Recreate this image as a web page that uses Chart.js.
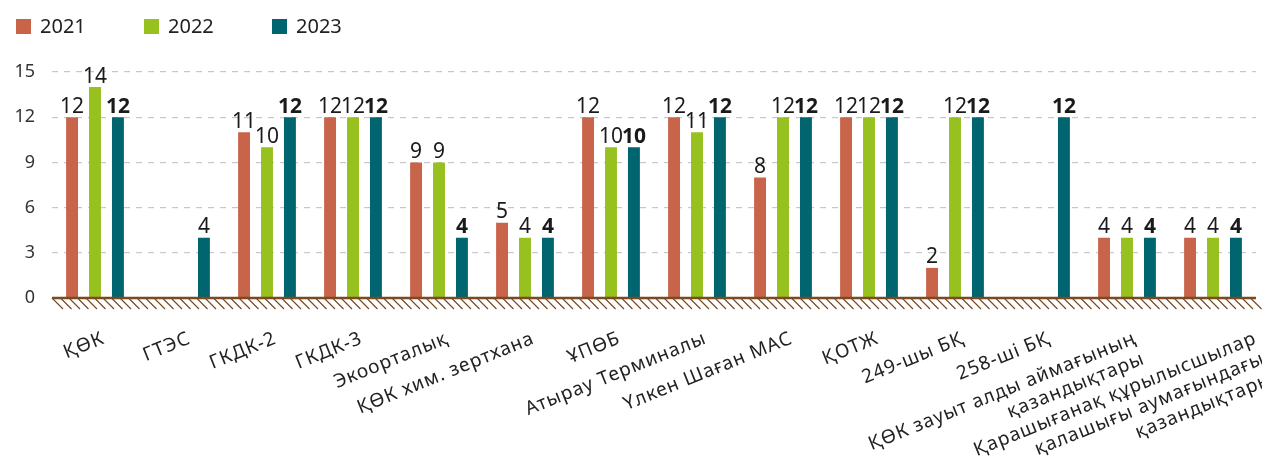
<!DOCTYPE html>
<html>
<head>
<meta charset="utf-8">
<script src="https://cdn.jsdelivr.net/npm/chart.js@4.4.0/dist/chart.umd.min.js"></script>
<style>
  html,body{margin:0;padding:0;background:#fff;}
  #wrap{width:1262px;height:462px;position:relative;}
</style>
</head>
<body>
<div id="wrap"><canvas id="barChart"></canvas></div>
<script>
const categories=['ҚӨК','ГТЭС','ГКДК-2','ГКДК-3','Экоорталық','ҚӨК хим. зертхана','ҰПӨБ','Атырау Терминалы','Үлкен Шаған МАС','ҚОТЖ','249-шы БҚ','258-ші БҚ',
    ['ҚӨК зауыт алды аймағының','қазандықтары'],
    ['Қарашығанақ құрылысшылар','қалашығы аумағындағы','қазандықтары']];
const years=['2021','2022','2023'];
const values2021=[12,null,11,12,9,5,12,12,8,12,2,null,4,4];
const values2022=[14,null,10,12,9,4,10,11,12,12,12,null,4,4];
const values2023=[12,4,12,12,4,4,10,12,12,12,12,12,4,4];
const yTicks=[0,3,6,9,12,15];

const colors=['#c8644a','#97c11f','#00656f'];
const FONT='"Noto Sans", sans-serif';

// zero line with hatching under it
const hatchPlugin={
    id:'hatch',
    afterDatasetsDraw(chart){
        const {ctx,chartArea}=chart;
        const y0=chart.scales.y.getPixelForValue(0);
        ctx.save();
        ctx.strokeStyle='#7a4b22';
        ctx.lineWidth=1.2;
        ctx.beginPath();
        for(let x=chartArea.left;x<chartArea.right;x+=8.5){
            ctx.moveTo(x,y0);
            ctx.lineTo(x+11,y0+11);
        }
        ctx.stroke();
        ctx.lineWidth=2.5;
        ctx.beginPath();
        ctx.moveTo(chartArea.left,y0);
        ctx.lineTo(chartArea.right,y0);
        ctx.stroke();
        ctx.restore();
    }
};

// numbers above the bars
const valuePlugin={
    id:'values',
    afterDatasetsDraw(chart){
        const ctx=chart.ctx;
        ctx.save();
        ctx.textAlign='center';
        ctx.textBaseline='bottom';
        ctx.fillStyle='#1a1a1a';
        chart.data.datasets.forEach((ds,di)=>{
            const meta=chart.getDatasetMeta(di);
            meta.data.forEach((bar,i)=>{
                const v=ds.data[i];
                if(v===null||v===undefined) return;
                const bold=di===2&&i!==1;
                ctx.font=(bold?'bold ':'')+'21px '+FONT;
                ctx.fillText(String(v),bar.x,bar.y);
            });
        });
        ctx.restore();
    }
};

// rotated category labels, right aligned at the tick
const xLabelPlugin={
    id:'xLabels',
    afterDraw(chart){
        const ctx=chart.ctx;
        const xs=chart.scales.x;
        const y0=chart.scales.y.getPixelForValue(0);
        ctx.save();
        ctx.font='19px '+FONT;
        ctx.letterSpacing='1px';
        ctx.fillStyle='#222';
        ctx.textAlign='right';
        ctx.textBaseline='top';
        chart.data.labels.forEach((lab,i)=>{
            const lines=Array.isArray(lab)?lab:[lab];
            // the last long label is pushed right in the original layout
            const shift=i===chart.data.labels.length-1?34:0;
            ctx.save();
            ctx.translate(xs.getPixelForTick(i)+5+shift,y0+31);
            ctx.rotate(-22*Math.PI/180);
            lines.forEach((t,k)=>ctx.fillText(t,0,k*22));
            ctx.restore();
        });
        ctx.restore();
    }
};

// legend drawn at top-left
const legendPlugin={
    id:'topLegend',
    afterDraw(chart){
        const ctx=chart.ctx;
        ctx.save();
        ctx.font='20px '+FONT;
        ctx.textBaseline='middle';
        chart.data.datasets.forEach((ds,i)=>{
            const x=16+i*128;
            ctx.fillStyle=ds.backgroundColor;
            ctx.fillRect(x,19,15,15);
            ctx.fillStyle='#222';
            ctx.fillText(ds.label,x+24,27);
        });
        ctx.restore();
    }
};

const ctx=document.getElementById('barChart').getContext('2d');
const barchart=new Chart(ctx,{
    type:'bar',
    data:{
        labels:categories,
        datasets:[
            {label:years[0],data:values2021,backgroundColor:colors[0]},
            {label:years[1],data:values2022,backgroundColor:colors[1]},
            {label:years[2],data:values2023,backgroundColor:colors[2]}
        ]
    },
    options:{
        responsive:true,
        maintainAspectRatio:false,
        animation:false,
        categoryPercentage:0.8,
        barPercentage:0.52,
        layout:{padding:{top:72,left:14,right:6}},
        plugins:{
            legend:{display:false},
            tooltip:{enabled:false}
        },
        scales:{
            x:{
                grid:{display:false},
                border:{display:false},
                ticks:{display:false},
                afterFit(s){s.height=164;}
            },
            y:{
                min:0,
                max:15,
                afterBuildTicks(s){s.ticks=yTicks.map(v=>({value:v}));},
                border:{display:false,dash:[6,6]},
                grid:{color:'#c8c8c8',lineWidth:1.2,drawTicks:false},
                ticks:{
                    font:{family:FONT,size:18},
                    color:'#333',
                    padding:17
                },
                afterFit(s){s.width=38;}
            }
        }
    },
    plugins:[hatchPlugin,valuePlugin,xLabelPlugin,legendPlugin]
});
</script>
</body>
</html>
